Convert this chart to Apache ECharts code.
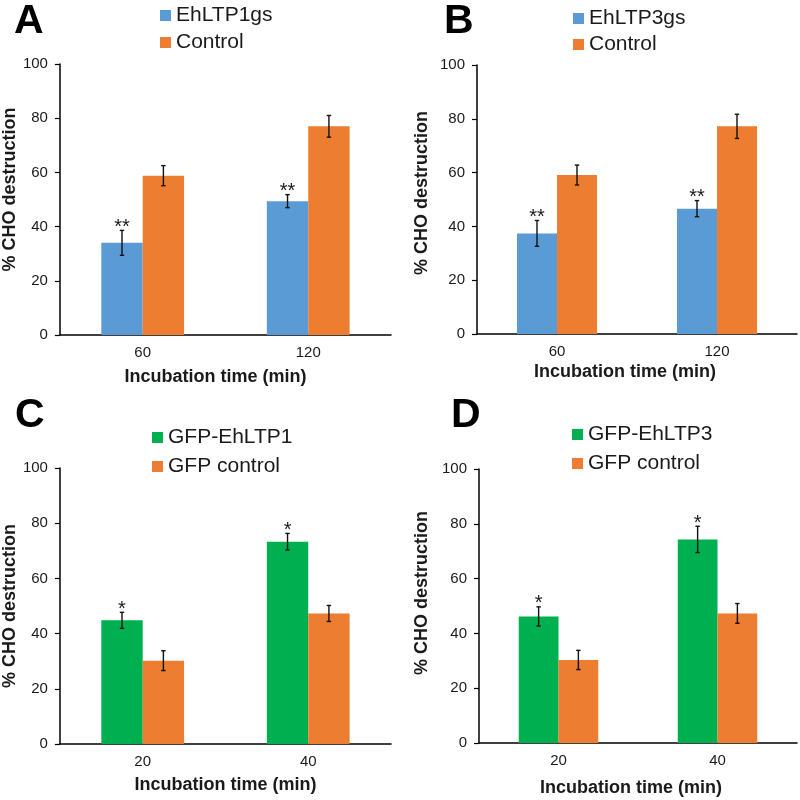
<!DOCTYPE html>
<html>
<head>
<meta charset="utf-8">
<script src="https://cdn.jsdelivr.net/npm/echarts@6/dist/echarts.min.js"></script>
<style>html,body{margin:0;padding:0;background:#fff;}#chart{width:800px;height:800px;}</style>
</head>
<body>
<div id="chart"></div>
<script>
// ---- data ----
const categoriesAB = ['60', '120'];
const categoriesCD = ['20', '40'];

const A_EhLTP1gs = [34.0, 49.4];
const A_EhLTP1gsErr = [4.6, 2.4];
const A_Control = [58.8, 77.0];
const A_ControlErr = [3.7, 4.0];
const A_sig = ['**', '**'];

const B_EhLTP3gs = [37.4, 46.6];
const B_EhLTP3gsErr = [4.8, 3.0];
const B_Control = [59.1, 77.2];
const B_ControlErr = [3.7, 4.5];
const B_sig = ['**', '**'];

const C_GFP_EhLTP1 = [44.8, 73.3];
const C_GFP_EhLTP1Err = [2.9, 3.0];
const C_GFPcontrol = [30.2, 47.3];
const C_GFPcontrolErr = [3.6, 2.9];
const C_sig = ['*', '*'];

const D_GFP_EhLTP3 = [46.2, 74.3];
const D_GFP_EhLTP3Err = [3.5, 4.8];
const D_GFPcontrol = [30.3, 47.3];
const D_GFPcontrolErr = [3.5, 3.6];
const D_sig = ['*', '*'];

const yTicks = [0, 20, 40, 60, 80, 100];
const yTitle = '% CHO destruction';
const xTitle = 'Incubation time (min)';
const panelLetters = ['A', 'B', 'C', 'D'];

// ---- styling ----
const FONT = 'Liberation Sans, Arial, Helvetica, sans-serif';
const BLUE = '#5B9BD5', ORANGE = '#ED7D31', GREEN = '#00B050';
const TXT = '#1a1a1a';
const BAR_FRAC = 0.25;

const chart = echarts.init(document.getElementById('chart'));

const grids = [
  { left: 57, top: 64, width: 334, height: 271 },
  { left: 477, top: 65, width: 320, height: 269 },
  { left: 57, top: 468, width: 334, height: 276 },
  { left: 479, top: 469, width: 318, height: 274 }
];
const xNameGap = [33, 29, 32, 36];
const xNamePad = [20, 24, 0, 14];
const yNameGap = [39, 46, 39, 48];
const yNamePad = [20, 13, 0, 26];

function xAxis(i, cats) {
  return {
    type: 'category', gridIndex: i, data: cats,
    axisLine: { lineStyle: { color: '#000', width: 1.5 } },
    axisTick: { alignWithLabel: true, length: 5, lineStyle: { color: '#000', width: 1.2 } },
    axisLabel: { color: TXT, fontSize: 15, fontFamily: FONT, margin: 10 },
    name: xTitle, nameLocation: 'middle', nameGap: xNameGap[i],
    nameTextStyle: { color: TXT, fontSize: 18, fontWeight: 'bold', fontFamily: FONT, padding: [0, xNamePad[i], 0, 0] }
  };
}
function yAxis(i) {
  return {
    type: 'value', gridIndex: i, min: yTicks[0], max: yTicks[yTicks.length - 1], interval: 20,
    axisLine: { show: true, lineStyle: { color: '#000', width: 1.5 } },
    axisTick: { show: true, length: 5, lineStyle: { color: '#000', width: 1.2 } },
    axisLabel: { color: TXT, fontSize: 15, fontFamily: FONT, margin: 12 },
    splitLine: { show: false },
    name: yTitle, nameLocation: 'middle', nameGap: yNameGap[i], nameRotate: 90,
    nameTextStyle: { color: TXT, fontSize: 18, fontWeight: 'bold', fontFamily: FONT, padding: [0, 0, 0, yNamePad[i]] }
  };
}

function barSeries(i, name, data, color) {
  return {
    type: 'bar', name: name, xAxisIndex: i, yAxisIndex: i, data: data,
    barWidth: (BAR_FRAC * 100) + '%', barGap: '0%',
    itemStyle: { color: color }
  };
}

function errSeries(i, values, errs, side, sig) {
  const data = values.map((v, k) => [k, v, errs[k], sig ? sig[k] : '']);
  return {
    type: 'custom', xAxisIndex: i, yAxisIndex: i, data: data, z: 5,
    renderItem: function (params, api) {
      const k = api.value(0), v = api.value(1), e = api.value(2);
      const band = api.size([1, 0])[0];
      const cx = api.coord([k, v])[0] + side * band * BAR_FRAC / 2;
      const yTop = api.coord([k, v + e])[1];
      const yBot = api.coord([k, v - e])[1];
      const cap = 2.2;
      const ls = { stroke: '#111', lineWidth: 1.4 };
      const children = [
        { type: 'line', shape: { x1: cx, y1: yTop, x2: cx, y2: yBot }, style: ls },
        { type: 'line', shape: { x1: cx - cap, y1: yTop, x2: cx + cap, y2: yTop }, style: ls },
        { type: 'line', shape: { x1: cx - cap, y1: yBot, x2: cx + cap, y2: yBot }, style: ls }
      ];
      const s = data[params.dataIndex][3];
      if (s) {
        children.push({
          type: 'text',
          style: { text: s, x: cx, y: yTop - 3, align: 'center', verticalAlign: 'middle',
                   fill: TXT, font: '20px ' + FONT }
        });
      }
      return { type: 'group', children: children };
    }
  };
}

const legendPos = [
  { left: 160, top: 5, itemGap: 6, data: ['EhLTP1gs', 'Control'] },
  { left: 573, top: 8, itemGap: 5, data: ['EhLTP3gs', 'Control'] },
  { left: 152, top: 427, itemGap: 8, data: ['GFP-EhLTP1', 'GFP control'] },
  { left: 572, top: 424, itemGap: 8, data: ['GFP-EhLTP3', 'GFP control'] }
];
const legends = legendPos.map(p => ({
  orient: 'vertical', left: p.left, top: p.top, itemGap: p.itemGap, padding: 0,
  itemWidth: 11, itemHeight: 11, icon: 'rect', data: p.data,
  textStyle: { color: TXT, fontSize: 21, fontFamily: FONT }, selectedMode: false
}));

const letterPos = [[14, 1], [444, 1], [15, 395], [451, 395]];
const graphics = panelLetters.map((t, i) => ({
  type: 'text', left: letterPos[i][0], top: letterPos[i][1],
  style: { text: t, font: 'bold 41px ' + FONT, fill: '#000' }
}));

const option = {
  animation: false,
  backgroundColor: '#fff',
  grid: grids,
  xAxis: [xAxis(0, categoriesAB), xAxis(1, categoriesAB), xAxis(2, categoriesCD), xAxis(3, categoriesCD)],
  yAxis: [yAxis(0), yAxis(1), yAxis(2), yAxis(3)],
  legend: legends,
  graphic: graphics,
  series: [
    barSeries(0, 'EhLTP1gs', A_EhLTP1gs, BLUE),
    barSeries(0, 'Control', A_Control, ORANGE),
    errSeries(0, A_EhLTP1gs, A_EhLTP1gsErr, -1, A_sig),
    errSeries(0, A_Control, A_ControlErr, 1, null),

    barSeries(1, 'EhLTP3gs', B_EhLTP3gs, BLUE),
    barSeries(1, 'Control', B_Control, ORANGE),
    errSeries(1, B_EhLTP3gs, B_EhLTP3gsErr, -1, B_sig),
    errSeries(1, B_Control, B_ControlErr, 1, null),

    barSeries(2, 'GFP-EhLTP1', C_GFP_EhLTP1, GREEN),
    barSeries(2, 'GFP control', C_GFPcontrol, ORANGE),
    errSeries(2, C_GFP_EhLTP1, C_GFP_EhLTP1Err, -1, C_sig),
    errSeries(2, C_GFPcontrol, C_GFPcontrolErr, 1, null),

    barSeries(3, 'GFP-EhLTP3', D_GFP_EhLTP3, GREEN),
    barSeries(3, 'GFP control', D_GFPcontrol, ORANGE),
    errSeries(3, D_GFP_EhLTP3, D_GFP_EhLTP3Err, -1, D_sig),
    errSeries(3, D_GFPcontrol, D_GFPcontrolErr, 1, null)
  ]
};
chart.setOption(option);
</script>
</body>
</html>
